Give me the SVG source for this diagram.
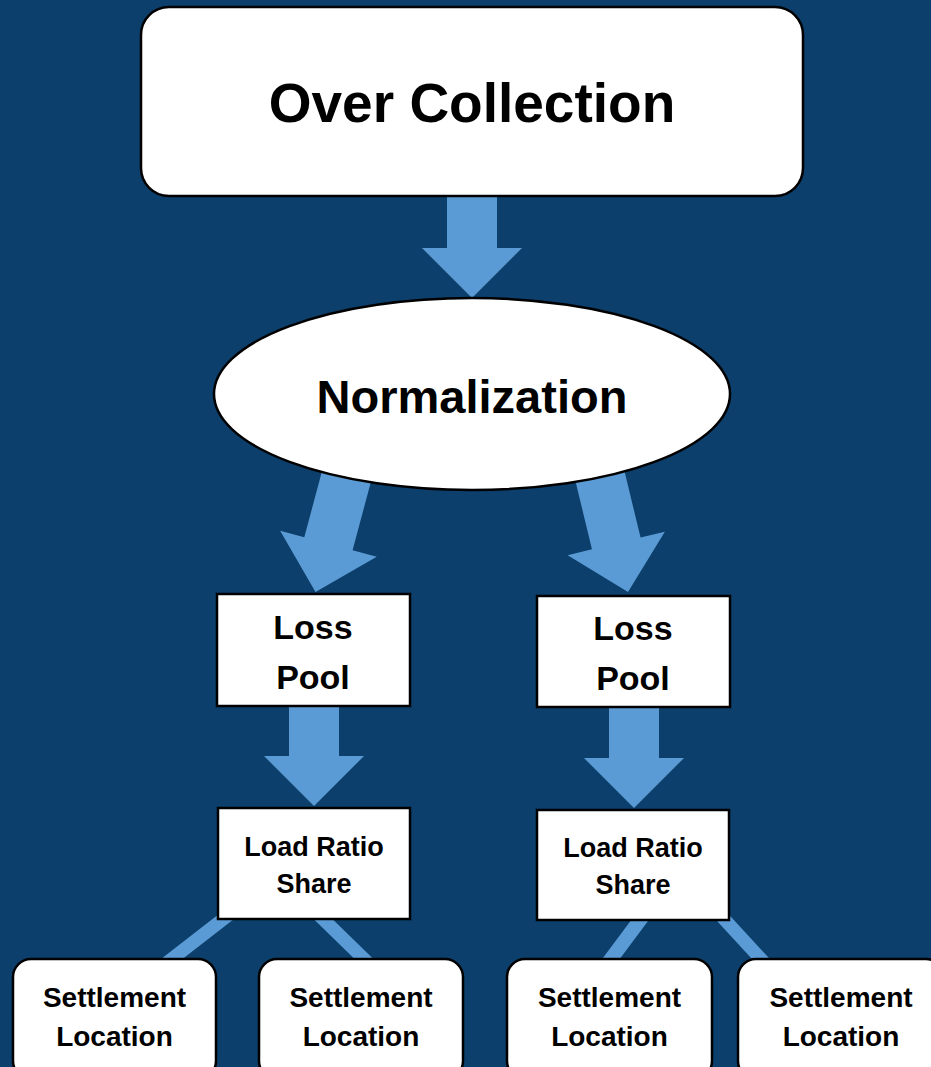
<svg xmlns="http://www.w3.org/2000/svg" width="931" height="1067" viewBox="0 0 931 1067">
<style>
.box{fill:#ffffff;stroke:#000000;stroke-width:2.5}
.t{font-family:"Liberation Sans",Arial,sans-serif;font-weight:bold;fill:#000000;text-anchor:middle}
.ln{stroke:#5b9bd5;stroke-width:13;fill:none}
.ar{fill:#5b9bd5}
</style>
<defs>
<path id="arr" d="M-25,-140 L25,-140 L25,-50 L50,-50 L0,0 L-50,-50 L-25,-50 Z"/>
</defs>
<rect x="0" y="0" width="931" height="1067" fill="#0c3f6b"/>
<g id="connectors">
<use href="#arr" class="ar" transform="translate(472,298)"/>
<use href="#arr" class="ar" transform="translate(315.5,592) rotate(15)"/>
<use href="#arr" class="ar" transform="translate(628,592) rotate(-13.6)"/>
<use href="#arr" class="ar" transform="translate(314,806)"/>
<use href="#arr" class="ar" transform="translate(634,808)"/>
<line class="ln" x1="232.3" y1="912" x2="162.7" y2="966"/>
<line class="ln" x1="315.8" y1="912" x2="371.2" y2="966"/>
<line class="ln" x1="646" y1="912" x2="605.7" y2="966" style="stroke-width:14"/>
<line class="ln" x1="717.6" y1="912" x2="767.4" y2="966"/>
</g>
<g id="over-collection">
<rect class="box" x="141" y="7" width="662" height="189" rx="28"/>
<text class="t" x="472" y="122" font-size="55">Over Collection</text>
</g>
<g id="normalization">
<ellipse class="box" cx="472" cy="394" rx="258" ry="96"/>
<text class="t" x="472" y="413" font-size="47">Normalization</text>
</g>
<g id="loss-pool-1">
<rect class="box" x="217" y="594" width="193" height="112"/>
<text class="t" x="313" y="639" font-size="34">Loss</text>
<text class="t" x="313" y="689" font-size="34">Pool</text>
</g>
<g id="loss-pool-2">
<rect class="box" x="537" y="596" width="193" height="111"/>
<text class="t" x="633" y="640" font-size="34">Loss</text>
<text class="t" x="633" y="690" font-size="34">Pool</text>
</g>
<g id="load-ratio-1">
<rect class="box" x="218" y="808" width="192" height="111"/>
<text class="t" x="314" y="856" font-size="27">Load Ratio</text>
<text class="t" x="314" y="893" font-size="27">Share</text>
</g>
<g id="load-ratio-2">
<rect class="box" x="537" y="810" width="192" height="110"/>
<text class="t" x="633" y="857" font-size="27">Load Ratio</text>
<text class="t" x="633" y="894" font-size="27">Share</text>
</g>
<g id="settlement-1">
<rect class="box" x="13" y="959" width="203" height="120" rx="18"/>
<text class="t" x="114.5" y="1007" font-size="28">Settlement</text>
<text class="t" x="114.5" y="1046" font-size="28">Location</text>
</g>
<g id="settlement-2">
<rect class="box" x="259" y="959" width="204" height="120" rx="18"/>
<text class="t" x="361" y="1007" font-size="28">Settlement</text>
<text class="t" x="361" y="1046" font-size="28">Location</text>
</g>
<g id="settlement-3">
<rect class="box" x="507" y="959" width="205" height="120" rx="18"/>
<text class="t" x="609.5" y="1007" font-size="28">Settlement</text>
<text class="t" x="609.5" y="1046" font-size="28">Location</text>
</g>
<g id="settlement-4">
<rect class="box" x="738" y="959" width="206" height="120" rx="18"/>
<text class="t" x="841" y="1007" font-size="28">Settlement</text>
<text class="t" x="841" y="1046" font-size="28">Location</text>
</g>
</svg>
